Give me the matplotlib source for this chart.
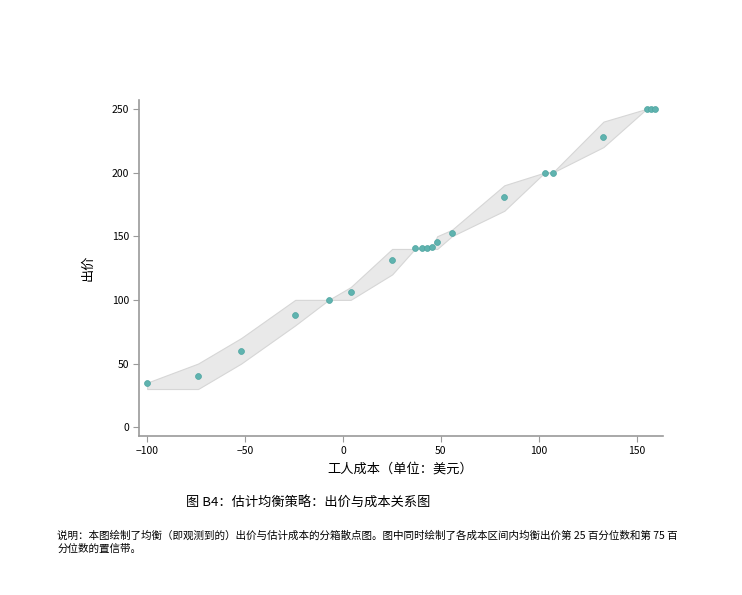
import matplotlib.pyplot as plt

plt.rcParams['font.family'] = ['Noto Sans CJK SC', 'DejaVu Sans']

# binned costs (x), mean bids and 25th / 75th percentile band
cost = [-100, -74, -52, -24.4, -7.3, 3.9, 25.1, 36.7, 40.4, 43.0, 45.5, 48.1,
        55.6, 82.4, 103.0, 107.1, 133.0, 155.0, 157.2, 159.2]
bid = [35, 40, 60, 88, 100, 106, 131, 140.5, 141, 141, 141.5, 145.5,
       152.5, 181, 200, 200, 228, 250, 250, 250]
lower = [30, 30, 50, 80, 100, 100, 120, 140, 140, 140, 140, 140,
         150, 170, 200, 200, 220, 250, 250, 250]
upper = [35, 50, 70, 100, 100, 110, 140, 140, 141, 141, 141.5, 150,
         155, 190, 200, 200, 240, 250, 250, 250]

fig = plt.figure(figsize=(7.42, 5.95), dpi=100)
ax = fig.add_axes([0.187, 0.267, 0.706, 0.565])

ax.fill_between(cost, lower, upper, color='#e9e9e9', edgecolor='#d6d6d6', linewidth=0.8)
ax.scatter(cost, bid, s=18, color='#5fb3af', edgecolors='#4ea5a1', linewidths=0.5, zorder=3)

ax.set_xlim(-104.3, 163.2)
ax.set_ylim(-7, 257)
ax.set_xticks([-100, -50, 0, 50, 100, 150])
ax.set_xticklabels(['\u2212100', '\u221250', '0', '50', '100', '150'])
ax.set_yticks([0, 50, 100, 150, 200, 250])

for s in ['top', 'right']:
    ax.spines[s].set_visible(False)
for s in ['left', 'bottom']:
    ax.spines[s].set_color('#9a9a9a')
    ax.spines[s].set_linewidth(1.2)
ax.tick_params(labelsize=7.5, length=4, color='#9a9a9a', width=0.8, pad=3)

ax.set_xlabel('工人成本（单位：美元）', fontsize=9.5, labelpad=5)
ax.set_ylabel('出价', fontsize=9.5, labelpad=12)

fig.text(0.416, 0.154, '图 B4：估计均衡策略：出价与成本关系图', fontsize=9.5, ha='center', va='center')
fig.text(0.077, 0.100, '说明：本图绘制了均衡（即观测到的）出价与估计成本的分箱散点图。图中同时绘制了各成本区间内均衡出价第 25 百分位数和第 75 百',
         fontsize=7.6, ha='left', va='center')
fig.text(0.077, 0.077, '分位数的置信带。', fontsize=7.6, ha='left', va='center')

fig.savefig('out.png', dpi=100)
